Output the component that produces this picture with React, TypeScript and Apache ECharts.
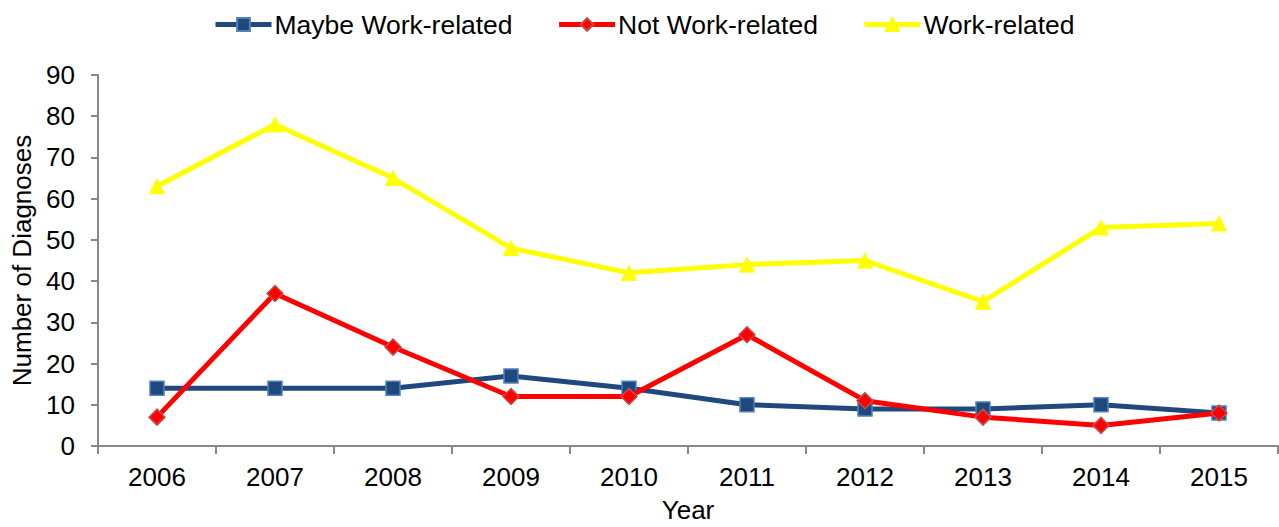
import React, { useEffect, useRef } from "react";
import * as echarts from "echarts";

const years = ["2006", "2007", "2008", "2009", "2010", "2011", "2012", "2013", "2014", "2015"];
const maybeWork = [14, 14, 14, 17, 14, 10, 9, 9, 10, 8];
const notWork = [7, 37, 24, 12, 12, 27, 11, 7, 5, 8];
const work = [63, 78, 65, 48, 42, 44, 45, 35, 53, 54];

const FONT = "Liberation Sans, Arial, sans-serif";
const FS = 26;

export default function App() {
  const ref = useRef<HTMLDivElement>(null);
  useEffect(() => {
    if (!ref.current) return;
    const chart = echarts.init(ref.current, undefined, { renderer: "svg" });
    chart.setOption({
      animation: false,
      textStyle: { fontFamily: FONT },
      legend: {
        top: 6,
        left: 208,
        itemWidth: 56,
        itemHeight: 16,
        itemGap: 44,
        lineStyle: { width: 5 },
        textStyle: { fontSize: 26.5, color: "#000", fontFamily: FONT, padding: [0, 0, 0, -2] },
        data: ["Maybe Work-related", "Not Work-related", "Work-related"],
      },
      grid: {
        left: 98,
        right: 1,
        top: 75,
        bottom: 81,
        containLabel: false,
        outerBoundsMode: "none",
      },
      xAxis: {
        type: "category",
        data: years,
        boundaryGap: true,
        name: "Year",
        nameLocation: "middle",
        nameGap: 51,
        nameTextStyle: { fontSize: FS, color: "#000", fontFamily: FONT },
        axisLine: { lineStyle: { color: "#888", width: 2 } },
        axisTick: { show: true, length: 8, lineStyle: { color: "#888", width: 2 }, alignWithLabel: false },
        axisLabel: { fontSize: FS, color: "#000", margin: 18, fontFamily: FONT },
        splitLine: { show: false },
      },
      yAxis: {
        type: "value",
        min: 0,
        max: 90,
        interval: 10,
        name: "Number of Diagnoses",
        nameLocation: "middle",
        nameGap: 60,
        nameTextStyle: { fontSize: FS, color: "#000", fontFamily: FONT },
        axisLine: { show: true, lineStyle: { color: "#888", width: 2 } },
        axisTick: { show: true, length: 7, lineStyle: { color: "#888", width: 2 } },
        axisLabel: { fontSize: FS, color: "#000", margin: 23, fontFamily: FONT },
        splitLine: { show: false },
      },
      series: [
        {
          name: "Maybe Work-related",
          type: "line",
          data: maybeWork,
          symbol: "rect",
          symbolSize: 14,
          lineStyle: { color: "#1F497D", width: 5 },
          itemStyle: { color: "#1F497D", borderColor: "#4F81BD", borderWidth: 1.5 },
          z: 3,
        },
        {
          name: "Not Work-related",
          type: "line",
          data: notWork,
          symbol: "diamond",
          symbolSize: 16,
          lineStyle: { color: "#FF0000", width: 5 },
          itemStyle: { color: "#FF0000", borderColor: "#C0504D", borderWidth: 1.5 },
          z: 4,
        },
        {
          name: "Work-related",
          type: "line",
          data: work,
          symbol: "triangle",
          symbolSize: 15,
          lineStyle: { color: "#FFFF00", width: 5 },
          itemStyle: { color: "#FFFF00", borderColor: "#FFFF00", borderWidth: 1 },
          z: 2,
        },
      ],
    });
    return () => chart.dispose();
  }, []);
  return <div ref={ref} style={{ width: 1279, height: 527, position: "absolute", left: 0, top: 0 }} />;
}
